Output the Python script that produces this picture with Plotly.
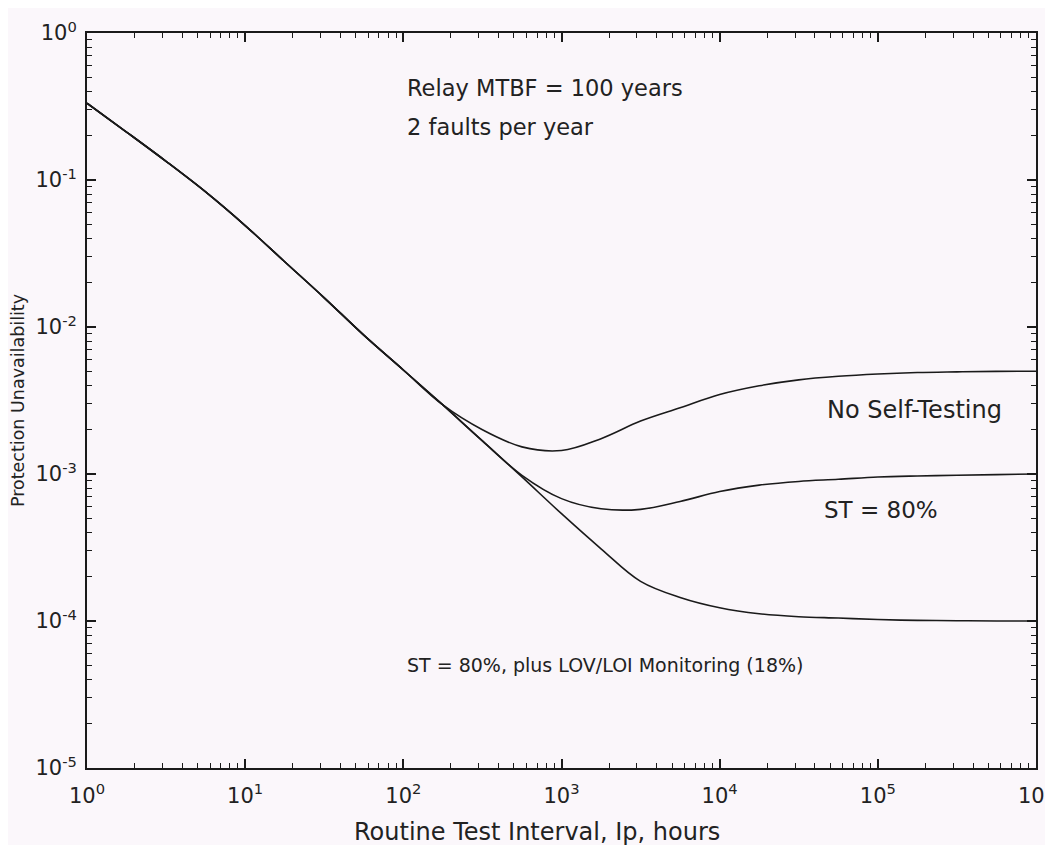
import plotly.graph_objects as go

# Routine test interval, hours (quarter-decade steps)
test_interval = [1, 1.778, 3.162, 5.623, 10, 17.78, 31.62, 56.23, 100, 177.8,
                 316.2, 562.3, 1000, 1778, 3162, 5623, 10000, 17780, 31620,
                 56230, 100000, 177800, 316200, 562300, 1000000]

# Protection unavailability
no_self_testing = [0.333, 0.212, 0.134, 0.083, 0.0490, 0.0278, 0.0158, 0.0088, 0.0051, 0.00295,
                   0.00200, 0.00153, 0.001445, 0.00174, 0.00229, 0.00282, 0.00347, 0.00398, 0.00437,
                   0.00462, 0.00479, 0.00490, 0.00495, 0.00499, 0.00500]
st_80 = [0.333, 0.212, 0.134, 0.083, 0.0490, 0.0278, 0.0158, 0.0088, 0.0051, 0.00295,
         0.00168, 0.00098, 0.00068, 0.00058, 0.000575, 0.00065, 0.00076, 0.00084, 0.00089,
         0.00092, 0.000955, 0.00097, 0.00098, 0.00099, 0.00100]
st_80_lov = [0.333, 0.212, 0.134, 0.083, 0.0490, 0.0278, 0.0158, 0.0088, 0.0051, 0.00295,
             0.00168, 0.000955, 0.000537, 0.000310, 0.000186, 0.0001445, 0.000123, 0.000112, 0.000107,
             0.0001047, 0.0001023, 0.000101, 0.0001005, 0.0001, 0.0001]

series = [("No Self-Testing", no_self_testing),
          ("ST = 80%", st_80),
          ("ST = 80%, plus LOV/LOI Monitoring (18%)", st_80_lov)]

x_tickvals = [1, 10, 100, 1000, 10000, 100000, 1000000]
x_ticktext = ["10<sup>0</sup>", "10<sup>1</sup>", "10<sup>2</sup>", "10<sup>3</sup>",
              "10<sup>4</sup>", "10<sup>5</sup>", "10<sup>6</sup>"]
y_tickvals = [1, 0.1, 0.01, 0.001, 0.0001, 0.00001]
y_ticktext = ["10<sup>0</sup>", "10<sup>-1</sup>", "10<sup>-2</sup>", "10<sup>-3</sup>",
              "10<sup>-4</sup>", "10<sup>-5</sup>"]

minor_digits = [2, 3, 4, 5, 6, 7, 8, 9]
x_minor = [d * m for m in x_tickvals[:-1] for d in minor_digits]
y_minor = [d * m for m in y_tickvals[1:] for d in minor_digits]

fig = go.Figure()
for name, vals in series:
    fig.add_trace(go.Scatter(x=test_interval, y=vals, mode="lines", name=name,
                             line=dict(color="#1a1a1a", width=1.6, shape="spline", smoothing=1.0),
                             showlegend=False))
# trace that carries the overlay axes used for the minor ticks (drawn on top of a curve point)
fig.add_trace(go.Scatter(x=test_interval[:1], y=no_self_testing[:1], xaxis="x2", yaxis="y2",
                         mode="lines", line=dict(color="#1a1a1a", width=1.6),
                         showlegend=False, hoverinfo="skip"))

font_family = "DejaVu Sans, Liberation Sans, Arial, sans-serif"
tick_font = dict(family=font_family, size=21, color="#222")

fig.update_layout(
    xaxis=dict(type="log", range=[0, 6], tickmode="array", tickvals=x_tickvals, ticktext=x_ticktext,
               ticks="inside", ticklen=9, tickwidth=2, tickcolor="#1a1a1a",
               showline=True, linecolor="#1a1a1a", linewidth=2, mirror="ticks",
               showgrid=False, tickfont=tick_font, ticklabelstandoff=8,
               ticklabeloverflow="allow", automargin=False),
    yaxis=dict(type="log", range=[-5, 0], tickmode="array", tickvals=y_tickvals, ticktext=y_ticktext,
               ticks="inside", ticklen=9, tickwidth=2, tickcolor="#1a1a1a",
               showline=True, linecolor="#1a1a1a", linewidth=2, mirror="ticks",
               showgrid=False, tickfont=tick_font, ticklabelstandoff=4, automargin=False,
               title=dict(text="Protection Unavailability", standoff=18,
                          font=dict(family=font_family, size=17.5, color="#222"))),
    xaxis2=dict(type="log", range=[0, 6], overlaying="x", anchor="y2", side="bottom",
                tickmode="array", tickvals=x_minor, ticks="inside", ticklen=5, tickwidth=1,
                tickcolor="#1a1a1a", mirror="ticks", showline=True, linecolor="#1a1a1a",
                linewidth=2, showgrid=False, showticklabels=False, automargin=False),
    yaxis2=dict(type="log", range=[-5, 0], overlaying="y", anchor="x2", side="left",
                tickmode="array", tickvals=y_minor, ticks="inside", ticklen=5, tickwidth=1,
                tickcolor="#1a1a1a", mirror="ticks", showline=True, linecolor="#1a1a1a",
                linewidth=2, showgrid=False, showticklabels=False, automargin=False),
)

annotations = [
    ("Relay MTBF = 100 years", 0.335, 0.925, 22.5, "left"),
    ("2 faults per year", 0.335, 0.872, 22.5, "left"),
    ("No Self-Testing", 0.778, 0.487, 24, "left"),
    ("ST = 80%", 0.775, 0.351, 23, "left"),
    ("ST = 80%, plus LOV/LOI Monitoring (18%)", 0.335, 0.140, 19, "left"),
    ("Routine Test Interval, Ip, hours", 0.474, -0.087, 24, "center"),
]
for text, ax, ay, fs, anchor in annotations:
    fig.add_annotation(text=text, x=ax, y=ay, xref="paper", yref="paper",
                       xanchor=anchor, yanchor="middle", showarrow=False,
                       font=dict(family=font_family, size=fs, color="#222"))

# page body adds an 8px offset, margins compensate so the plot area sits at 87..1036 x 33..768
fig.update_layout(width=1053, height=845,
                  margin=dict(l=79, r=25, t=25, b=85),
                  paper_bgcolor="#fbf7fb", plot_bgcolor="#faf6fa",
                  font=dict(family=font_family, color="#222"))

fig.write_html("out.html")
